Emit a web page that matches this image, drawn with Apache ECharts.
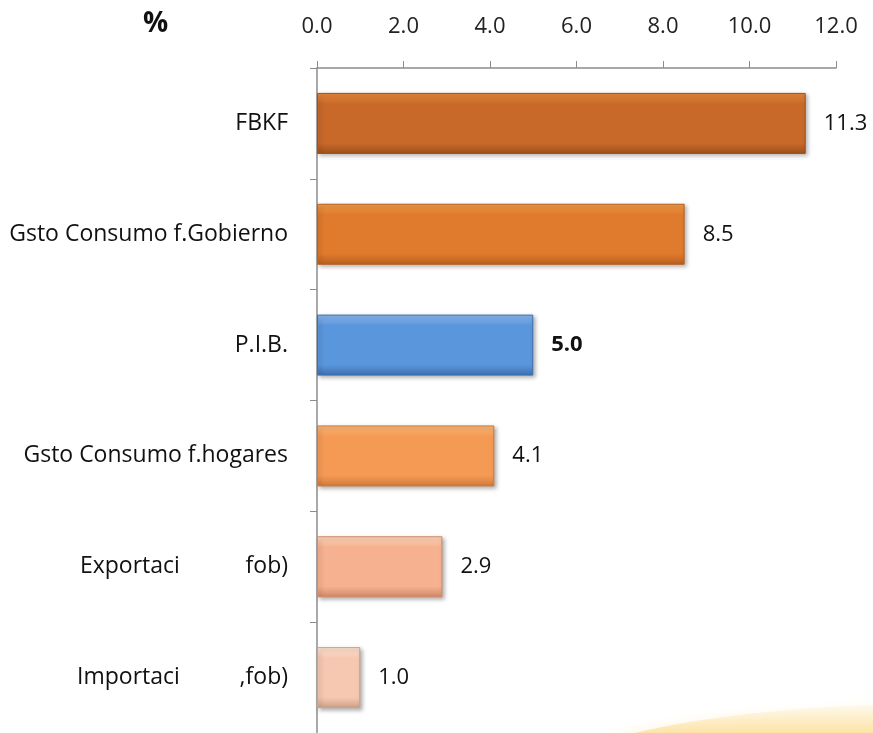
<!DOCTYPE html>
<html>
<head>
<meta charset="utf-8">
<script src="https://cdn.jsdelivr.net/npm/echarts@6/dist/echarts.min.js"></script>
<style>
  html, body { margin: 0; padding: 0; background: #fff; }
  #main { width: 873px; height: 733px; }
</style>
</head>
<body>
<div id="main"></div>
<script>
// datos
const categories = [
  'FBKF',
  'Gsto Consumo f.Gobierno',
  'P.I.B.',
  'Gsto Consumo f.hogares',
  'Exportaci           fob)',
  'Importaci          ,fob)'
]
const values = [11.3, 8.5, 5.0, 4.1, 2.9, 1.0]
const xTicks = [0, 2, 4, 6, 8, 10, 12]

// colores por barra: [claro, medio, oscuro]
const barColors = [
  ['#e8893a', '#c8692a', '#a0501c'],
  ['#f29a48', '#e07a2c', '#b86020'],
  ['#8ab8ee', '#5a96dc', '#3c70b0'],
  ['#fbb87a', '#f59a55', '#d07a3c'],
  ['#fdd8b8', '#f6b190', '#d08a68'],
  ['#fde2d0', '#f6c8b2', '#d0a088']
]

const FONT = '"Open Sans", "Noto Sans", sans-serif'

let myChart = echarts.init(document.getElementById('main'))

let data = values.map((v, i) => {
  let c = barColors[i]
  return {
    value: v,
    itemStyle: {
      color: new echarts.graphic.LinearGradient(0, 0, 0, 1, [
        { offset: 0, color: c[0] },
        { offset: 0.18, color: c[1] },
        { offset: 0.82, color: c[1] },
        { offset: 1, color: c[2] },
      ]),
      borderColor: c[2],
      borderWidth: 1,
      shadowColor: 'rgba(0,0,0,0.3)',
      shadowBlur: 4,
      shadowOffsetX: 2,
      shadowOffsetY: 2,
    },
    label: i === 2 ? { fontWeight: 'bold' } : {},
  }
})

let options = {
  backgroundColor: '#fff',
  animation: false,
  grid: {
    left: 317,
    right: 37,
    top: 68,
    bottom: -3,
  },
  graphic: [
    {
      type: 'text',
      left: 143,
      top: 10,
      style: {
        text: '%',
        font: 'bold 28px "Open Sans"',
        fill: '#111',
      },
    },
    // fondo amarillo abajo a la derecha
    {
      type: 'ellipse',
      z: -10,
      shape: { cx: 960, cy: 775, rx: 400, ry: 72 },
      style: {
        fill: new echarts.graphic.LinearGradient(0, 0, 0, 1, [
          { offset: 0, color: 'rgba(253,238,200,0.2)' },
          { offset: 0.22, color: 'rgba(252,222,155,0.85)' },
          { offset: 1, color: 'rgba(252,222,155,0.85)' },
        ]),
        shadowBlur: 12,
        shadowColor: 'rgba(253,235,190,0.8)',
      },
    },
  ],
  xAxis: {
    type: 'value',
    position: 'top',
    min: xTicks[0],
    max: xTicks[xTicks.length - 1],
    interval: 2,
    axisLine: { show: true, lineStyle: { color: '#8c8c8c', width: 1.5 } },
    axisTick: { show: true, length: 7, lineStyle: { color: '#8c8c8c' } },
    splitLine: { show: false },
    axisLabel: {
      margin: 30,
      fontSize: 22,
      fontFamily: FONT,
      color: '#222',
      formatter: (v) => v.toFixed(1),
    },
  },
  yAxis: {
    type: 'category',
    inverse: true,
    data: categories,
    axisLine: { show: true, lineStyle: { color: '#8c8c8c', width: 1.5 } },
    axisTick: { show: true, length: 7, lineStyle: { color: '#8c8c8c' } },
    axisLabel: {
      margin: 29,
      fontSize: 23,
      fontFamily: FONT,
      color: '#111',
    },
  },
  series: [
    {
      type: 'bar',
      data: data,
      barWidth: 61,
      label: {
        show: true,
        position: 'right',
        distance: 18,
        fontSize: 22,
        fontFamily: FONT,
        color: '#111',
        formatter: (p) => p.value.toFixed(1),
      },
    },
  ],
}

myChart.setOption(options)
</script>
</body>
</html>
